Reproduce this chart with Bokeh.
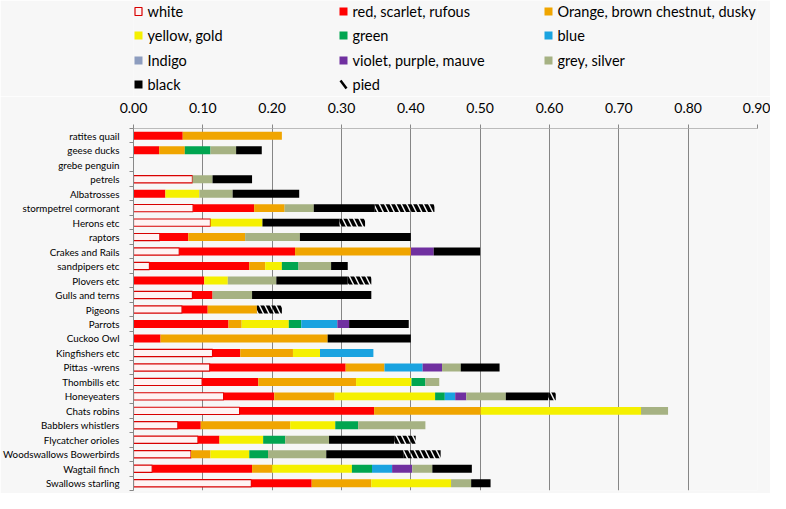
import numpy as np
from bokeh.plotting import figure
from bokeh.models import ColumnDataSource, Range1d, FixedTicker, NumeralTickFormatter
from bokeh.layouts import column
from bokeh.core.properties import value
from bokeh.embed import file_html
from bokeh.resources import INLINE

categories = ["ratites quail", "geese ducks", "grebe penguin", "petrels", "Albatrosses",
              "stormpetrel cormorant", "Herons etc", "raptors", "Crakes and Rails",
              "sandpipers etc", "Plovers etc", "Gulls and terns", "Pigeons", "Parrots",
              "Cuckoo Owl", "Kingfishers etc", "Pittas -wrens", "Thombills etc",
              "Honeyeaters", "Chats robins", "Babblers whistlers", "Flycatcher orioles",
              "Woodswallows Bowerbirds", "Wagtail finch", "Swallows starling"]

white  = [0, 0, 0, 0.085, 0, 0.086, 0.111, 0.038, 0.066, 0.023, 0, 0.085, 0.070, 0, 0, 0.114, 0.110, 0.099, 0.130, 0.153, 0.064, 0.093, 0.083, 0.027, 0.170]
red    = [0.071, 0.037, 0, 0, 0.046, 0.088, 0, 0.041, 0.167, 0.144, 0.102, 0.029, 0.037, 0.137, 0.039, 0.040, 0.196, 0.081, 0.073, 0.194, 0.033, 0.031, 0, 0.144, 0.087]
orange = [0.143, 0.037, 0, 0, 0, 0.044, 0, 0.082, 0.167, 0.023, 0, 0, 0.071, 0.019, 0.241, 0.076, 0.056, 0.141, 0.087, 0.154, 0.129, 0, 0.028, 0.029, 0.086]
yellow = [0, 0, 0, 0, 0.049, 0, 0.075, 0, 0, 0.024, 0.034, 0, 0, 0.068, 0, 0.039, 0, 0.080, 0.145, 0.231, 0.065, 0.063, 0.056, 0.115, 0.115]
green  = [0, 0.037, 0, 0, 0, 0, 0, 0, 0, 0.024, 0, 0, 0, 0.018, 0, 0, 0, 0.020, 0.014, 0, 0.033, 0.032, 0.027, 0.029, 0]
blue   = [0, 0, 0, 0, 0, 0, 0, 0, 0, 0, 0, 0, 0, 0.052, 0, 0.077, 0.055, 0, 0.015, 0, 0, 0, 0, 0.029, 0]
indigo = [0] * 25
violet = [0, 0, 0, 0, 0, 0, 0, 0, 0.033, 0, 0, 0, 0, 0.017, 0, 0, 0.028, 0, 0.016, 0, 0, 0, 0, 0.029, 0]
grey   = [0, 0.037, 0, 0.029, 0.048, 0.042, 0, 0.079, 0, 0.047, 0.070, 0.057, 0, 0, 0, 0, 0.027, 0.020, 0.057, 0.039, 0.097, 0.063, 0.084, 0.029, 0.029]
black  = [0, 0.037, 0, 0.057, 0.096, 0.088, 0.111, 0.160, 0.067, 0.024, 0.103, 0.172, 0, 0.086, 0.120, 0, 0.056, 0, 0.061, 0, 0, 0.094, 0.111, 0.057, 0.028]
pied   = [0, 0, 0, 0, 0, 0.086, 0.037, 0, 0, 0, 0.034, 0, 0.036, 0, 0, 0, 0, 0, 0.011, 0, 0, 0.031, 0.054, 0, 0]

series_names = ["white", "red, scarlet, rufous", "Orange, brown chestnut, dusky",
                "yellow, gold", "green", "blue",
                "Indigo", "violet, purple, mauve", "grey, silver",
                "black", "pied"]
series_values = [white, red, orange, yellow, green, blue, indigo, violet, grey, black, pied]
series_colors = ["#fff3f3", "#ff0000", "#f0a500", "#f5f000", "#00a550", "#1aa3e0",
                 "#8d9dbf", "#7030a0", "#a6b283", "#000000", None]
x_ticks = [0.0, 0.1, 0.2, 0.3, 0.4, 0.5, 0.6, 0.7, 0.8, 0.9]

BG = "#f7f7f7"
FONT = "Lato"
n = len(categories)
ypos = np.arange(n)[::-1].astype(float)  # first category on top
LEFT, RIGHT = 133, 13
W = 770
LH = 96

# ---------- main chart ----------
p = figure(width=W, height=493 - LH, output_backend="svg", toolbar_location=None,
           x_range=Range1d(0, 0.9), y_range=Range1d(-0.5, n - 0.5),
           x_axis_location="above", min_border_left=LEFT, min_border_right=RIGHT,
           min_border_top=128 - LH, min_border_bottom=3)
p.background_fill_color = BG
p.border_fill_color = BG
p.outline_line_color = None

cum = np.zeros(n)
for name, vals, col in zip(series_names, series_values, series_colors):
    v = np.array(vals, dtype=float)
    mask = v > 0
    src = ColumnDataSource(dict(y=ypos[mask], left=cum[mask], right=(cum + v)[mask]))
    if name == "white":
        p.hbar(y="y", left="left", right="right", height=0.5, source=src,
               fill_color=col, line_color="#d80000", line_width=1.2)
    elif name == "pied":
        p.hbar(y="y", left="left", right="right", height=0.55, source=src,
               fill_color=None, line_color=None, hatch_pattern="\\",
               hatch_color="black", hatch_scale=11, hatch_weight=3.5)
    else:
        p.hbar(y="y", left="left", right="right", height=0.55, source=src,
               fill_color=col, line_color=None)
    cum = cum + v

xa = p.xaxis[0]
xa.ticker = FixedTicker(ticks=x_ticks, minor_ticks=[])
xa.formatter = NumeralTickFormatter(format="0.00")
xa.axis_line_color = "#bbbbbb"
xa.major_tick_line_color = "#888888"
xa.major_tick_out = 4
xa.major_tick_in = 0
xa.major_label_standoff = 12
xa.major_label_text_font = FONT
xa.major_label_text_font_size = "14px"
xa.major_label_text_color = "#000000"

ya = p.yaxis[0]
ya.ticker = FixedTicker(ticks=list(ypos), minor_ticks=[i - 0.5 for i in range(n + 1)])
ya.major_label_overrides = {float(y): c for y, c in zip(ypos, categories)}
ya.major_tick_line_color = None
ya.major_tick_out = 0
ya.major_tick_in = 0
ya.minor_tick_out = 4
ya.minor_tick_in = 0
ya.minor_tick_line_color = "#888888"
ya.axis_line_color = "#888888"
ya.major_label_standoff = 10
ya.major_label_text_font = FONT
ya.major_label_text_font_size = "9.8px"
ya.major_label_text_color = "#000000"

p.xgrid.ticker = FixedTicker(ticks=x_ticks)
p.xgrid.grid_line_color = "#868686"
p.ygrid.grid_line_color = None

# ---------- legend panel (pixel coordinates, same frame edges as the chart) ----------
L = figure(width=W, height=LH, output_backend="svg", toolbar_location=None,
           x_range=Range1d(LEFT, W - RIGHT), y_range=Range1d(LH, 0),
           x_axis_location=None, y_axis_location=None,
           min_border_left=LEFT, min_border_right=RIGHT,
           min_border_top=0, min_border_bottom=0)
L.background_fill_color = BG
L.border_fill_color = BG
L.outline_line_color = None
L.grid.grid_line_color = None

col_x = [138.0, 343.0, 548.0]
row_y = [11.0, 35.0, 60.0, 84.0]
gx = [col_x[k % 3] for k in range(len(series_names))]
gy = [row_y[k // 3] for k in range(len(series_names))]

solid = [k for k, s in enumerate(series_names) if s not in ("white", "pied")]
L.rect(x=[gx[k] for k in solid], y=[gy[k] for k in solid], width=8, height=8,
       fill_color=[series_colors[k] for k in solid], line_color=None)
kw = series_names.index("white")
L.rect(x=[gx[kw]], y=[gy[kw]], width=7, height=8, fill_color=series_colors[kw],
       line_color="#d80000", line_width=1.2)
kp = series_names.index("pied")
L.segment(x0=[gx[kp] - 3], y0=[gy[kp] - 4], x1=[gx[kp] + 3], y1=[gy[kp] + 4],
          line_color="black", line_width=2.5)
L.text(x=[x + 9 for x in gx], y=gy, text=series_names, text_baseline="middle",
       text_align="left", text_font=value(FONT), text_font_size="14.5px",
       text_color="#000000")

layout = column(L, p, spacing=0)
open("out.html", "w").write(file_html(layout, INLINE))
